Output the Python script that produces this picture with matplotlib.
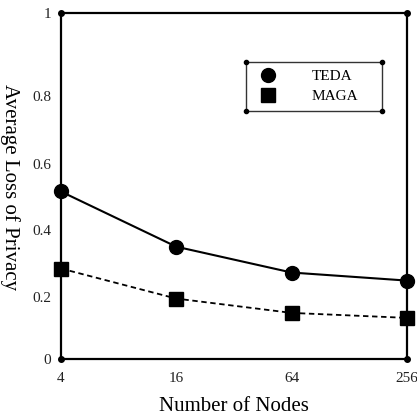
import numpy as np
import matplotlib
matplotlib.use("Agg")
import matplotlib.pyplot as plt
from matplotlib.lines import Line2D

plt.rcParams['font.family'] = ['Liberation Serif', 'DejaVu Serif']

nodes = [4, 16, 64, 256]
teda = [0.517, 0.349, 0.272, 0.248]
maga = [0.284, 0.194, 0.148, 0.132]

ytick_vals = [0, 0.2, 0.4, 0.6, 0.8, 1]
ytick_labels = ['0', '0.2', '0.4', '0.6', '0.8', '1']
xtick_labels = ['4', '16', '64', '256']

# the y labels in the original are not evenly spaced, so map them piecewise
ytick_pos = [0, 0.180, 0.374, 0.562, 0.759, 1]


def fwd(v):
    return np.interp(v, ytick_vals, ytick_pos)


def inv(p):
    return np.interp(p, ytick_pos, ytick_vals)


fig = plt.figure(figsize=(4.17, 4.16), dpi=100)
ax = fig.add_axes([0.146, 0.137, 0.830, 0.832])

ax.plot(nodes, teda, 'k-', marker='o', ms=10, lw=1.5, clip_on=False, zorder=5)
ax.plot(nodes, maga, 'k--', marker='s', ms=9.5, lw=1.3, dashes=(3, 2),
        clip_on=False, zorder=5)

ax.set_xscale('log', base=2)
ax.set_yscale('function', functions=(fwd, inv))
ax.set_xlim(4, 256)
ax.set_ylim(0, 1)
ax.set_xticks(nodes)
ax.set_xticklabels(xtick_labels)
ax.set_xticks([], minor=True)
ax.set_yticks(ytick_vals)
ax.set_yticklabels(ytick_labels)
ax.set_yticks([], minor=True)
ax.tick_params(axis='both', length=0, labelsize=11, labelcolor='#222222')
ax.tick_params(axis='x', pad=9)
ax.tick_params(axis='y', pad=7)
for s in ax.spines.values():
    s.set_linewidth(1.6)

# corner dots of the frame
ax.plot([4, 4, 256, 256], [0, 1, 0, 1], 'ko', ms=4, clip_on=False, zorder=6)

ax.set_xlabel('Number of Nodes', fontsize=15, labelpad=9)
fig.text(0.0, 0.55, 'Average Loss of Privacy', rotation=270, fontsize=15,
         ha='left', va='center')

handles = [Line2D([], [], color='k', marker='o', ls='none', ms=10),
           Line2D([], [], color='k', marker='s', ls='none', ms=9.5)]
leg = ax.legend(handles, ['TEDA', 'MAGA'], loc='upper left',
                bbox_to_anchor=(0.535, 0.716, 0.393, 0.142), mode='expand',
                fontsize=11, frameon=True, fancybox=False, borderpad=0.5,
                handlelength=1.9, handletextpad=1.9, labelspacing=0.42,
                borderaxespad=0)
leg.get_frame().set_edgecolor('k')
leg.get_frame().set_linewidth(1.0)

fig.canvas.draw()
bb = leg.get_frame().get_window_extent().transformed(ax.transAxes.inverted())
ax.plot([bb.x0, bb.x0, bb.x1, bb.x1], [bb.y0, bb.y1, bb.y0, bb.y1], 'ko',
        ms=3, transform=ax.transAxes, clip_on=False, zorder=7)

fig.savefig('out.png', dpi=100)
